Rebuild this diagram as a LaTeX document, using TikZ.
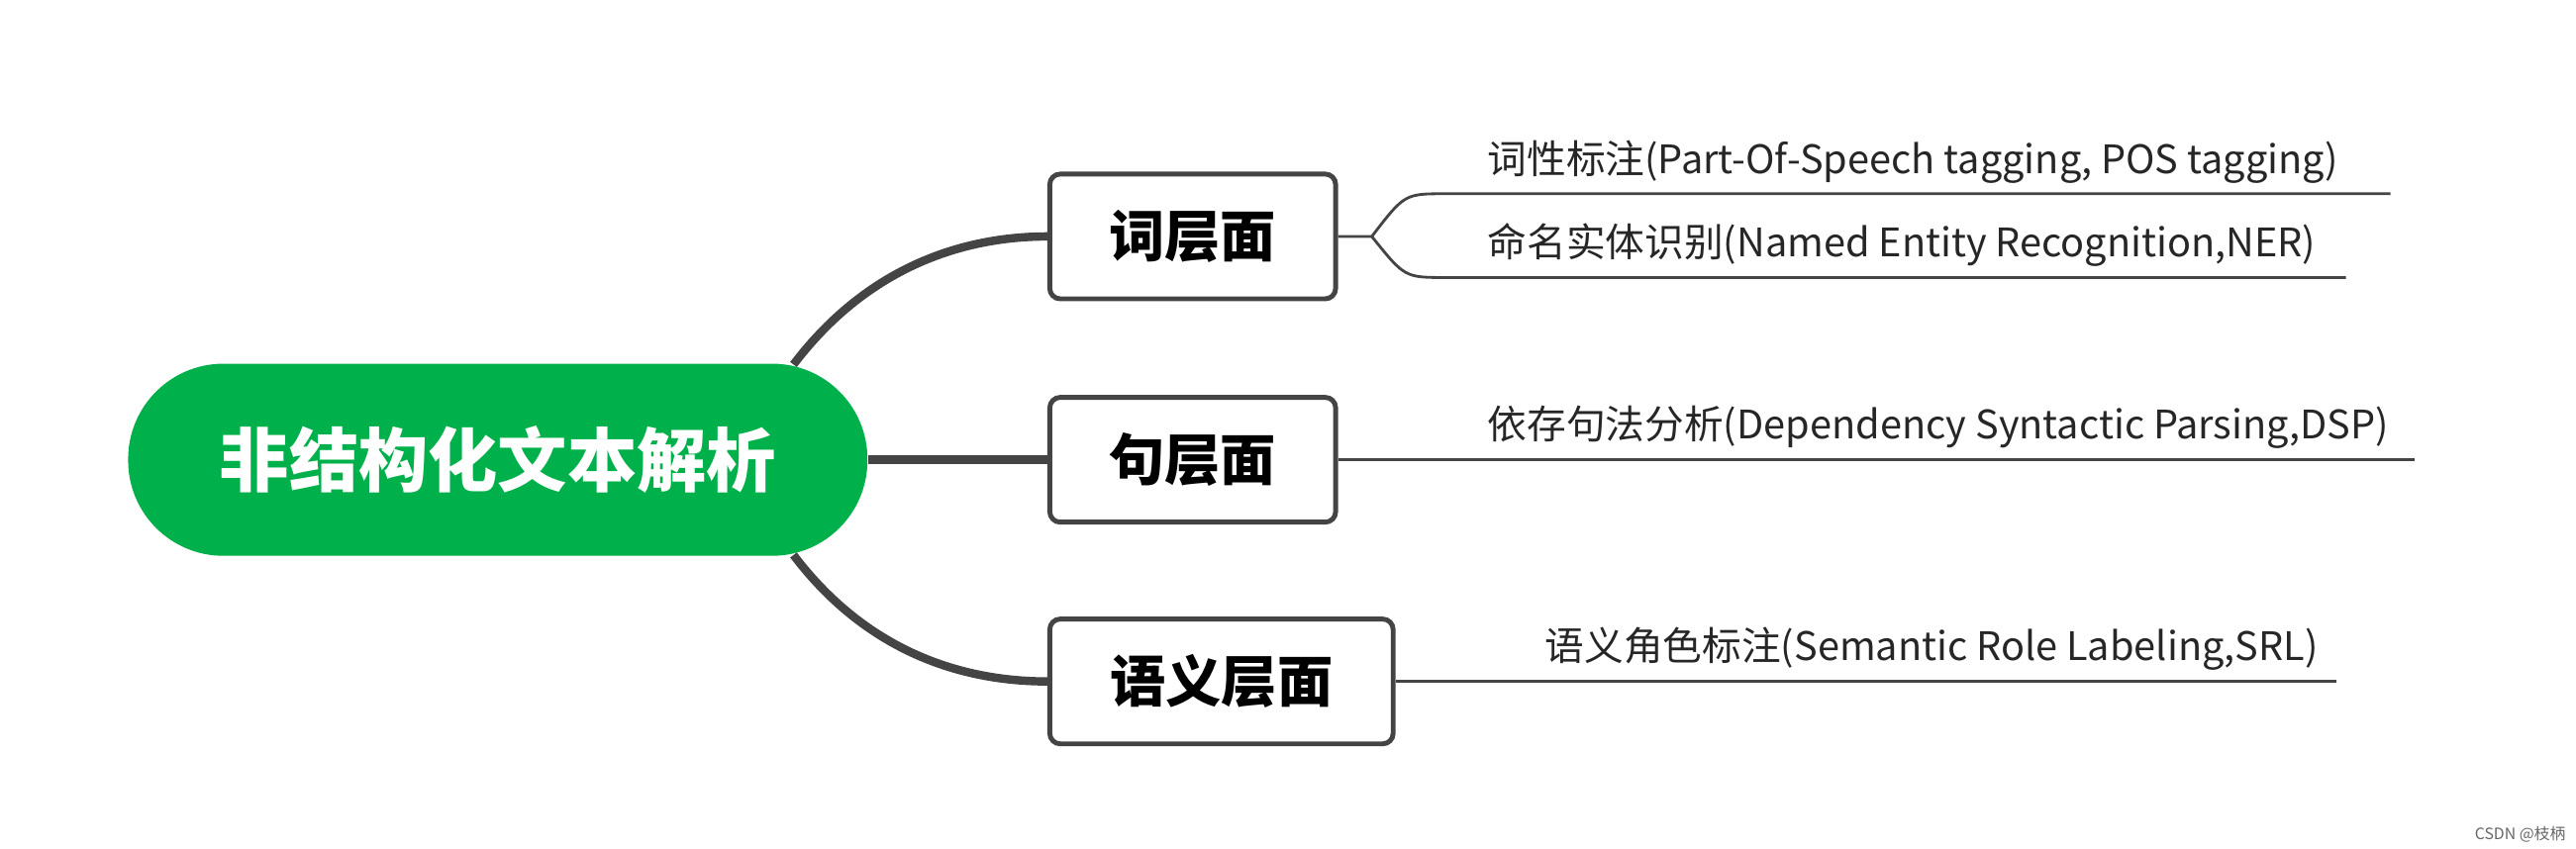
\documentclass[tikz,border=0pt]{standalone}
\usepackage{fontspec}
\setmainfont{Noto Sans CJK SC}
\usetikzlibrary{positioning}
\definecolor{rootgreen}{HTML}{00B04A}
\definecolor{linegray}{HTML}{444444}
\tikzset{
  root/.style={rounded corners=58*0.016594cm,fill=rootgreen,text=white,font=\fontsize{20}{24}\bfseries\selectfont,minimum width=450*0.016594cm,minimum height=117*0.016594cm,inner sep=0pt},
  topic/.style={draw=linegray,line width=1.4pt,rounded corners=3pt,fill=white,font=\fontsize{16}{19}\bfseries\selectfont,minimum height=76*0.016594cm,inner sep=0pt},
  leaf/.style={anchor=south west,font=\fontsize{11.3}{14}\selectfont,text=black!85,inner sep=1pt},
  thick link/.style={draw=linegray,line width=2.4pt},
  thin link/.style={draw=linegray,line width=0.8pt}
}
\begin{document}
\begin{tikzpicture}[x=0.016594cm,y=-0.016594cm]
  \useasboundingbox (0,0) rectangle (1568,517);
  \node[root] (root) at (303,280) {非结构化文本解析};
  \node[topic,minimum width=174*0.016594cm] (word) at (726,144) {词层面};
  \node[topic,minimum width=174*0.016594cm] (sent) at (726,280) {句层面};
  \node[topic,minimum width=209*0.016594cm] (sem) at (743.5,415) {语义层面};
  % root to topics
  \coordinate (rt) at (483,222);
  \coordinate (rb) at (483,338);
  \draw[thick link] (rt) .. controls (530,160) and (590,144) .. (word.west);
  \draw[thick link] (root.east) -- (sent.west);
  \draw[thick link] (rb) .. controls (530,400) and (590,415) .. (sem.west);
  % leaves
  \coordinate (fork) at (835,144);
  \coordinate (pos end) at (1455,118);
  \coordinate (ner end) at (1428,169);
  \coordinate (dsp end) at (1470,280);
  \coordinate (srl end) at (1422,415);
  \draw[thin link] (word.east) -- (fork) .. controls (855,118) .. (880,118) -- (pos end);
  \draw[thin link] (fork) .. controls (855,169) .. (880,169) -- (ner end);
  \draw[thin link] (sent.east) -- (dsp end);
  \draw[thin link] (sem.east) -- (srl end);
  \node[leaf] (pos) at (903,114) {词性标注(Part-Of-Speech tagging, POS tagging)};
  \node[leaf] (ner) at (903,165) {命名实体识别(Named Entity Recognition,NER)};
  \node[leaf] (dsp) at (903,276) {依存句法分析(Dependency Syntactic Parsing,DSP)};
  \node[leaf] (srl) at (938,411) {语义角色标注(Semantic Role Labeling,SRL)};
  \node[anchor=east,font=\fontsize{4.5}{5}\selectfont,text=black!60,inner sep=0pt] (mark) at (1562,508) {CSDN @枝柄};
\end{tikzpicture}
\end{document}
